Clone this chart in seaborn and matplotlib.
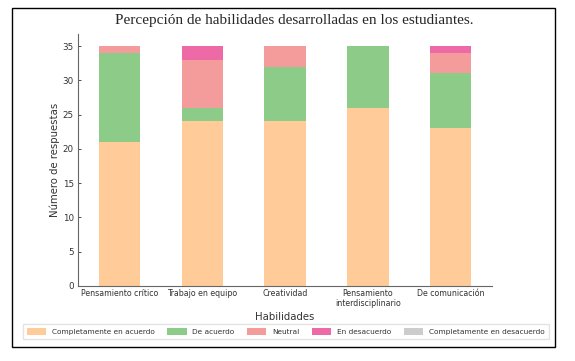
import pandas as pd
import matplotlib.pyplot as plt
import seaborn as sns
from matplotlib.patches import Rectangle

# datos
habilidades = ['Pensamiento crítico', 'Trabajo en equipo', 'Creatividad',
               'Pensamiento\ninterdisciplinario', 'De comunicación']
niveles = ['Completamente en acuerdo', 'De acuerdo', 'Neutral',
           'En desacuerdo', 'Completamente en desacuerdo']
completamente_acuerdo = [21, 24, 24, 26, 23]
de_acuerdo = [13, 2, 8, 9, 8]
neutral = [1, 7, 3, 0, 3]
en_desacuerdo = [0, 2, 0, 0, 1]
completamente_desacuerdo = [0, 0, 0, 0, 0]

colores = ['#FFCC99', '#8CCB88', '#F49C9C', '#EE6AA7', '#CCCCCC']

df = pd.DataFrame({
    'Habilidades': habilidades,
    niveles[0]: completamente_acuerdo,
    niveles[1]: de_acuerdo,
    niveles[2]: neutral,
    niveles[3]: en_desacuerdo,
    niveles[4]: completamente_desacuerdo,
})

sns.set_style('ticks')
plt.rcParams['font.family'] = ['DejaVu Sans']
plt.rcParams['xtick.direction'] = 'in'
plt.rcParams['ytick.direction'] = 'in'

fig = plt.figure(figsize=(5.75, 3.61), dpi=100)
ax = fig.add_axes([0.1357, 0.2078, 0.72, 0.698])

# barras apiladas: se dibujan las sumas acumuladas de arriba hacia abajo
acumulado = df[niveles].cumsum(axis=1)
for nivel, color in reversed(list(zip(niveles, colores))):
    sns.barplot(x=df['Habilidades'], y=acumulado[nivel], color=color,
                width=0.5, ax=ax, label=nivel, saturation=1,
                linewidth=0, edgecolor='none')

ax.set_xlabel('Habilidades', fontsize=7.3, color='#333333', labelpad=3)
ax.set_ylabel('Número de respuestas', fontsize=7.3, color='#333333', labelpad=2)
ax.tick_params(axis='x', labelsize=5.7, length=2.5, width=0.6, colors='#333333', pad=2)
ax.tick_params(axis='y', labelsize=6.3, length=2.5, width=0.6, colors='#333333', pad=3)
ax.set_ylim(0, 36.75)
ax.set_xlim(-0.5, 4.5)
sns.despine(ax=ax)
for s in ['left', 'bottom']:
    ax.spines[s].set_color('#666666')
    ax.spines[s].set_linewidth(0.8)

handles, labels = ax.get_legend_handles_labels()
handles, labels = handles[::-1], labels[::-1]
ax.legend(handles, labels, ncol=5, fontsize=5.3, loc='center',
          bbox_to_anchor=(0.497, 0.081), bbox_transform=fig.transFigure,
          frameon=True, edgecolor='#dddddd', fancybox=False,
          handlelength=2.6, handleheight=0.9, columnspacing=1.7,
          borderpad=0.55, labelcolor='#333333')

fig.text(0.511, 0.942, 'Percepción de habilidades desarrolladas en los estudiantes.',
         ha='center', va='center', fontsize=11, family='Liberation Serif')

fig.patches.append(Rectangle((12 / 575, 1 - 347 / 361), (555 - 12) / 575, (347 - 8) / 361,
                             transform=fig.transFigure, fill=False,
                             edgecolor='black', linewidth=1))

fig.savefig('out.png', dpi=100)
